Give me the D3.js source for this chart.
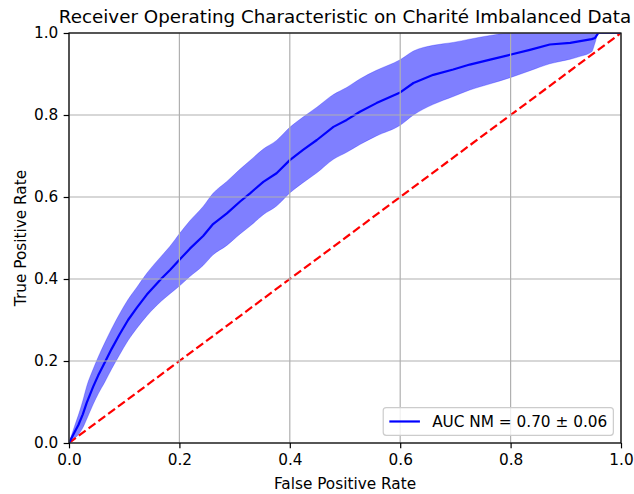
<!DOCTYPE html>
<html>
<head>
<meta charset="utf-8">
<script src="https://cdn.jsdelivr.net/npm/d3@7"></script>
<style>
  html, body { margin: 0; padding: 0; background: #fff; }
  svg { display: block; font-family: "DejaVu Sans", sans-serif; }
</style>
</head>
<body>
<svg id="chart" width="634" height="494"></svg>
<script>
// ---- data ----
const meanFpr = [0, 0.010, 0.017, 0.025, 0.032, 0.044, 0.053, 0.065, 0.077, 0.092,
  0.107, 0.123, 0.141, 0.168, 0.183, 0.201, 0.219, 0.243, 0.261, 0.286,
  0.310, 0.328, 0.352, 0.376, 0.400, 0.424, 0.449, 0.479, 0.503, 0.527,
  0.557, 0.600, 0.624, 0.660, 0.696, 0.726, 0.763, 0.799, 0.835, 0.871,
  0.908, 0.926, 0.947, 0.953, 0.959, 1.000];
const meanTpr = [0, 0.026, 0.044, 0.070, 0.098, 0.138, 0.165, 0.197, 0.229, 0.266,
  0.300, 0.330, 0.362, 0.402, 0.422, 0.448, 0.474, 0.505, 0.534, 0.560,
  0.589, 0.609, 0.637, 0.658, 0.690, 0.715, 0.739, 0.771, 0.788, 0.808,
  0.829, 0.855, 0.878, 0.898, 0.911, 0.923, 0.935, 0.947, 0.959, 0.972,
  0.976, 0.980, 0.985, 0.988, 1.000, 1.000];
const stdTpr = [0, 0.015, 0.024, 0.033, 0.040, 0.043, 0.045, 0.048, 0.049, 0.050,
  0.050, 0.050, 0.052, 0.055, 0.058, 0.064, 0.068, 0.072, 0.075, 0.078,
  0.079, 0.080, 0.080, 0.080, 0.080, 0.080, 0.080, 0.079, 0.079, 0.080,
  0.080, 0.080, 0.078, 0.072, 0.066, 0.062, 0.059, 0.056, 0.051, 0.047,
  0.040, 0.037, 0.031, 0.012, 0, 0];
const chanceLine = [0, 1];
const xTicks = [0, 0.2, 0.4, 0.6, 0.8, 1.0];
const yTicks = [0, 0.2, 0.4, 0.6, 0.8, 1.0];
const titleText = "Receiver Operating Characteristic on Charité Imbalanced Data";
const xLabelText = "False Positive Rate";
const yLabelText = "True Positive Rate";
const legendText = "AUC NM = 0.70 ± 0.06";

// ---- layout ----
const L = 69, R = 621, T = 33, B = 443;
const FS = 15.3, TFS = 18.3, TICK = 5.35;
const svg = d3.select("#chart");
const x = d3.scaleLinear().domain([0, 1]).range([L, R]);
const y = d3.scaleLinear().domain([0, 1]).range([B, T]);

const pts = meanFpr.map((f, i) => ({
  f, m: meanTpr[i],
  up: Math.min(meanTpr[i] + stdTpr[i], 1),
  lo: Math.max(meanTpr[i] - stdTpr[i], 0)
}));

svg.append("defs").append("clipPath").attr("id", "clip")
  .append("rect").attr("x", L).attr("y", T).attr("width", R - L).attr("height", B - T);

const plot = svg.append("g").attr("clip-path", "url(#clip)");

// band
plot.append("path")
  .datum(pts)
  .attr("d", d3.area().curve(d3.curveMonotoneX).x(d => x(d.f)).y0(d => y(d.lo)).y1(d => y(d.up)))
  .attr("fill", "#0000ff").attr("fill-opacity", 0.5)
  .attr("stroke", "#0000ff").attr("stroke-opacity", 0.5).attr("stroke-width", 0.5);

// grid
const grid = svg.append("g");
grid.selectAll("line.gx").data(xTicks).join("line")
  .attr("x1", d => x(d)).attr("x2", d => x(d)).attr("y1", T).attr("y2", B)
  .attr("stroke", "#b0b0b0").attr("stroke-width", 1.2);
grid.selectAll("line.gy").data(yTicks).join("line")
  .attr("y1", d => y(d)).attr("y2", d => y(d)).attr("x1", L).attr("x2", R)
  .attr("stroke", "#b0b0b0").attr("stroke-width", 1.2);

// chance diagonal
plot.append("path")
  .datum(chanceLine)
  .attr("d", d3.line().x(d => x(d)).y(d => y(d)))
  .attr("fill", "none").attr("stroke", "#ff0000").attr("stroke-width", 2.2)
  .attr("stroke-dasharray", "8.5,3.7");

// mean ROC
plot.append("path")
  .datum(pts)
  .attr("d", d3.line().x(d => x(d.f)).y(d => y(d.m)))
  .attr("fill", "none").attr("stroke", "#0000ff").attr("stroke-width", 2.2)
  .attr("stroke-linejoin", "round");

// axes
const fmt = d3.format(".1f");
const gx = svg.append("g").attr("transform", `translate(0,${B})`)
  .call(d3.axisBottom(x).tickValues(xTicks).tickFormat(fmt).tickSize(TICK).tickPadding(TICK));
const gy = svg.append("g").attr("transform", `translate(${L},0)`)
  .call(d3.axisLeft(y).tickValues(yTicks).tickFormat(fmt).tickSize(TICK).tickPadding(TICK));
[gx, gy].forEach(g => {
  g.select(".domain").remove();
  g.selectAll("line").attr("stroke", "#000").attr("stroke-width", 1.2);
  g.selectAll("text").attr("font-size", FS + "px").attr("fill", "#000")
    .attr("font-family", "DejaVu Sans, sans-serif");
});

// spines
svg.append("rect").attr("x", L).attr("y", T).attr("width", R - L).attr("height", B - T)
  .attr("fill", "none").attr("stroke", "#000").attr("stroke-width", 1.2);

// title & labels
svg.append("text").attr("x", (L + R) / 2).attr("y", 23).attr("text-anchor", "middle")
  .attr("font-size", TFS + "px").attr("fill", "#000").text(titleText);
svg.append("text").attr("x", (L + R) / 2).attr("y", 489).attr("text-anchor", "middle")
  .attr("font-size", FS + "px").attr("fill", "#000").text(xLabelText);
svg.append("text").attr("transform", `translate(25.5,${(T + B) / 2}) rotate(-90)`)
  .attr("text-anchor", "middle").attr("font-size", FS + "px").attr("fill", "#000").text(yLabelText);

// legend
const lg = svg.append("g");
const box = lg.append("rect");
const lt = lg.append("text").attr("font-size", FS + "px").attr("fill", "#000").text(legendText);
const tw = lt.node().getComputedTextLength();
const pad = 0.4 * FS, handle = 2 * FS, tpad = 0.8 * FS;
const bw = pad + handle + tpad + tw + pad;
const bh = 2 * pad + 15.5;
const bx = R - 0.5 * FS - bw, by = B - 0.5 * FS - bh;
box.attr("x", bx).attr("y", by).attr("width", bw).attr("height", bh)
  .attr("rx", 3).attr("fill", "#fff").attr("fill-opacity", 0.8)
  .attr("stroke", "#cccccc").attr("stroke-width", 1.2);
const cy = by + bh / 2;
lg.append("line").attr("x1", bx + pad).attr("x2", bx + pad + handle)
  .attr("y1", cy).attr("y2", cy).attr("stroke", "#0000ff").attr("stroke-width", 2.2);
lt.attr("x", bx + pad + handle + tpad).attr("y", cy + 5.5);
</script>
</body>
</html>
